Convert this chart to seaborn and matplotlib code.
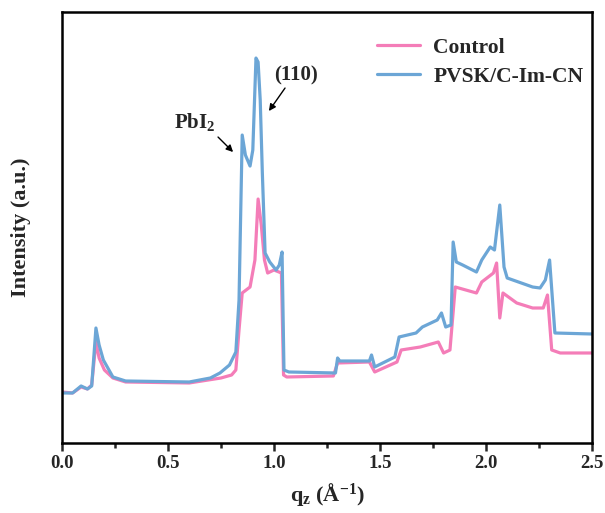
import matplotlib
matplotlib.use("Agg")
import matplotlib.pyplot as plt
import seaborn as sns
import pandas as pd
from matplotlib.ticker import MultipleLocator

# ---- data ----
q_control = [0, 0.05, 0.09, 0.12, 0.14, 0.16, 0.175, 0.2, 0.24, 0.3, 0.6, 0.75, 0.8, 0.82, 0.835,
             0.85, 0.887, 0.91, 0.925, 0.94, 0.955, 0.97, 1.0, 1.035, 1.045, 1.06, 1.28, 1.30, 1.45,
             1.475, 1.58, 1.60, 1.69, 1.775, 1.80, 1.83, 1.855, 1.955, 1.98, 2.035, 2.05, 2.065,
             2.08, 2.145, 2.22, 2.27, 2.29, 2.31, 2.35, 2.5]
i_control = [51, 50, 56, 54, 58, 101, 85, 73, 65, 61, 60, 65, 68, 73, 113,
             150, 156, 183, 244, 218, 183, 170, 173, 170, 68, 66, 67, 80, 81,
             71, 81, 93, 96, 101, 90, 93, 156, 150, 161, 170, 180, 125,
             150, 140, 135, 135, 148, 93, 90, 90]

q_cn = [0, 0.05, 0.09, 0.12, 0.14, 0.16, 0.175, 0.195, 0.24, 0.3, 0.6, 0.7, 0.745, 0.79, 0.82,
        0.835, 0.85, 0.865, 0.887, 0.90, 0.915, 0.925, 0.935, 0.945, 0.958, 0.98, 1.01, 1.025,
        1.038, 1.047, 1.07, 1.29, 1.30, 1.31, 1.45, 1.46, 1.475, 1.57, 1.59, 1.67, 1.70, 1.77,
        1.79, 1.81, 1.835, 1.845, 1.86, 1.89, 1.955, 1.98, 2.02, 2.04, 2.065, 2.085, 2.10,
        2.22, 2.255, 2.28, 2.30, 2.325, 2.5]
i_cn = [50, 50, 57, 54, 57, 115, 98, 83, 66, 62, 61, 65, 70, 78, 91,
        143, 308, 288, 277, 293, 385, 381, 343, 270, 190, 181, 173, 178,
        191, 73, 71, 70, 85, 82, 82, 88, 76, 86, 106, 110, 116, 123,
        130, 116, 118, 201, 181, 178, 171, 183, 196, 193, 238, 176, 165,
        156, 155, 163, 183, 110, 109]

labels = ["Control", "PVSK/C-Im-CN"]
x_ticks = [0.0, 0.5, 1.0, 1.5, 2.0, 2.5]
x_tick_labels = ["0.0", "0.5", "1.0", "1.5", "2.0", "2.5"]

df = pd.concat([
    pd.DataFrame({"q": q_control, "I": i_control, "Sample": labels[0]}),
    pd.DataFrame({"q": q_cn, "I": i_cn, "Sample": labels[1]}),
])

sns.set_style("ticks")
plt.rcParams["font.family"] = ["Liberation Serif", "DejaVu Serif"]
plt.rcParams["font.weight"] = "bold"
plt.rcParams["mathtext.fontset"] = "custom"
plt.rcParams["mathtext.rm"] = "Liberation Serif:bold"
plt.rcParams["mathtext.bf"] = "Liberation Serif:bold"
plt.rcParams["mathtext.it"] = "Liberation Serif:bold"

fig = plt.figure(figsize=(6.05, 5.13), dpi=100)
ax = fig.add_axes([0.1025, 0.1365, 0.876, 0.840])

palette = {labels[0]: "#F47DB8", labels[1]: "#6CA6D6"}
sns.lineplot(data=df, x="q", y="I", hue="Sample", palette=palette, ax=ax,
             linewidth=2.3, sort=False, estimator=None)

ax.set_xlim(0, 2.5)
ax.set_ylim(0, 431)
ax.set_yticks([])
ax.set_xticks(x_ticks)
ax.set_xticklabels(x_tick_labels, fontsize=13.5, fontweight="bold")
ax.xaxis.set_minor_locator(MultipleLocator(0.25))
ax.tick_params(axis="x", which="major", direction="out", length=6, width=1.8, pad=3)
ax.tick_params(axis="x", which="minor", direction="out", length=3.5, width=1.8)
for s in ax.spines.values():
    s.set_linewidth(1.8)
    s.set_color("black")

ax.set_xlabel(r"q$_\mathregular{z}$ ($\mathregular{\AA^{-1}}$)", fontsize=16, fontweight="bold", labelpad=6)
ax.set_ylabel("Intensity (a.u.)", fontsize=16, fontweight="bold", labelpad=22)

leg = ax.legend(loc="upper right", frameon=False, fontsize=15.5, handlelength=2.0,
                handletextpad=0.6, borderaxespad=0.0, labelspacing=0.4,
                bbox_to_anchor=(1.0, 0.96))
for t in leg.get_texts():
    t.set_fontweight("bold")

ax.text(0.627, 315, r"PbI$_\mathregular{2}$", fontsize=15, fontweight="bold",
        ha="center", va="baseline")
ax.annotate("", xy=(0.807, 291), xytext=(0.736, 306),
            arrowprops=dict(arrowstyle="-|>", color="black", lw=1.0, mutation_scale=10,
                            shrinkA=0, shrinkB=0))
ax.text(1.104, 368, "(110)", fontsize=15, fontweight="bold", ha="center", va="center")
ax.annotate("", xy=(0.976, 332), xytext=(1.052, 355),
            arrowprops=dict(arrowstyle="-|>", color="black", lw=1.0, mutation_scale=10,
                            shrinkA=0, shrinkB=0))

fig.savefig("out.png", dpi=100)
